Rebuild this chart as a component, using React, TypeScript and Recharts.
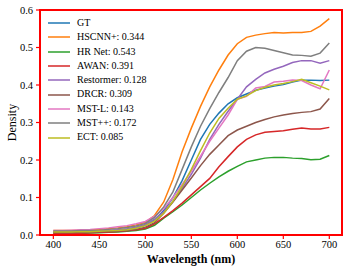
import React from 'react';
import { LineChart, Line, XAxis, YAxis, ReferenceArea, Legend } from 'recharts';

const wavelengths = [400, 410, 420, 430, 440, 450, 460, 470, 480, 490, 500, 510, 520, 530, 540, 550, 560, 570, 580, 590, 600, 610, 620, 630, 640, 650, 660, 670, 680, 690, 700];

const gt = [0.008, 0.008, 0.008, 0.009, 0.009, 0.010, 0.011, 0.013, 0.015, 0.019, 0.026, 0.040, 0.065, 0.100, 0.145, 0.200, 0.255, 0.295, 0.325, 0.350, 0.366, 0.376, 0.386, 0.392, 0.397, 0.401, 0.408, 0.413, 0.413, 0.412, 0.413];
const hscnn = [0.012, 0.012, 0.012, 0.013, 0.014, 0.015, 0.017, 0.019, 0.022, 0.027, 0.034, 0.052, 0.088, 0.148, 0.222, 0.285, 0.343, 0.395, 0.440, 0.480, 0.510, 0.527, 0.533, 0.537, 0.540, 0.539, 0.540, 0.540, 0.543, 0.557, 0.577];
const hrnet = [0.003, 0.003, 0.004, 0.004, 0.005, 0.006, 0.007, 0.008, 0.010, 0.012, 0.016, 0.026, 0.045, 0.062, 0.080, 0.100, 0.120, 0.138, 0.155, 0.170, 0.183, 0.195, 0.200, 0.205, 0.207, 0.207, 0.205, 0.204, 0.201, 0.202, 0.212];
const awan = [0.004, 0.004, 0.005, 0.005, 0.006, 0.007, 0.008, 0.009, 0.011, 0.014, 0.018, 0.030, 0.047, 0.065, 0.085, 0.107, 0.129, 0.151, 0.182, 0.209, 0.235, 0.255, 0.267, 0.274, 0.276, 0.278, 0.282, 0.285, 0.283, 0.283, 0.287];
const restormer = [0.008, 0.008, 0.009, 0.009, 0.010, 0.011, 0.012, 0.014, 0.017, 0.021, 0.028, 0.042, 0.062, 0.090, 0.125, 0.162, 0.205, 0.255, 0.295, 0.330, 0.362, 0.395, 0.415, 0.432, 0.442, 0.450, 0.460, 0.465, 0.465, 0.458, 0.465];
const drcr = [0.006, 0.006, 0.006, 0.007, 0.007, 0.008, 0.009, 0.010, 0.012, 0.015, 0.021, 0.033, 0.058, 0.088, 0.120, 0.152, 0.185, 0.215, 0.240, 0.265, 0.280, 0.290, 0.300, 0.308, 0.315, 0.320, 0.324, 0.327, 0.329, 0.336, 0.364];
const mstl = [0.012, 0.012, 0.013, 0.014, 0.015, 0.017, 0.019, 0.022, 0.025, 0.030, 0.036, 0.050, 0.070, 0.100, 0.135, 0.170, 0.210, 0.250, 0.285, 0.320, 0.362, 0.370, 0.392, 0.396, 0.408, 0.410, 0.413, 0.412, 0.400, 0.390, 0.440];
const mstpp = [0.011, 0.011, 0.011, 0.012, 0.012, 0.013, 0.015, 0.017, 0.020, 0.024, 0.031, 0.047, 0.075, 0.115, 0.175, 0.235, 0.290, 0.337, 0.380, 0.420, 0.465, 0.490, 0.500, 0.498, 0.492, 0.486, 0.480, 0.479, 0.477, 0.485, 0.512];
const ect = [0.008, 0.008, 0.008, 0.009, 0.009, 0.010, 0.011, 0.012, 0.014, 0.018, 0.025, 0.037, 0.058, 0.090, 0.130, 0.175, 0.225, 0.272, 0.311, 0.338, 0.362, 0.371, 0.385, 0.394, 0.400, 0.404, 0.409, 0.415, 0.406, 0.397, 0.387];

const seriesKeys = ['gt', 'hscnn', 'hrnet', 'awan', 'restormer', 'drcr', 'mstl', 'mstpp', 'ect'];
const seriesLabels = ['GT', 'HSCNN+: 0.344', 'HR Net: 0.543', 'AWAN: 0.391', 'Restormer: 0.128', 'DRCR: 0.309', 'MST-L: 0.143', 'MST++: 0.172', 'ECT: 0.085'];
const seriesColors = ['#1f77b4', '#ff7f0e', '#2ca02c', '#d62728', '#9467bd', '#8c564b', '#e377c2', '#7f7f7f', '#bcbd22'];
const seriesValues = [gt, hscnn, hrnet, awan, restormer, drcr, mstl, mstpp, ect];

const xTicks = [400, 450, 500, 550, 600, 650, 700];
const yTicks = [0, 0.1, 0.2, 0.3, 0.4, 0.5, 0.6];

const data = wavelengths.map((w, i) => {
  const row: Record<string, number> = { w };
  seriesKeys.forEach((k, j) => {
    row[k] = seriesValues[j][i];
  });
  return row;
});

const FONT = '"Liberation Serif", "Times New Roman", serif';
const XMIN = 385.5;
const XMAX = 713.8;

const LegendContent = () => (
  <div style={{ fontFamily: FONT, fontSize: 10, color: '#000' }}>
    {seriesLabels.map((label, i) => (
      <div key={label} style={{ display: 'flex', alignItems: 'center', height: 14.3, whiteSpace: 'nowrap' }}>
        <svg width={22} height={4} style={{ display: 'block' }}>
          <line x1={0} y1={2} x2={22} y2={2} stroke={seriesColors[i]} strokeWidth={1.5} />
        </svg>
        <span style={{ marginLeft: 7, lineHeight: '14.3px' }}>{label}</span>
      </div>
    ))}
  </div>
);

export default function App() {
  return (
    <div style={{ width: 349, height: 272, position: 'relative', background: '#fff' }}>
      <style>{'body{margin:0;}'}</style>
      <LineChart width={349} height={272} data={data} margin={{ top: 10, right: 7, left: 0, bottom: 0 }}>
        <XAxis
          dataKey="w"
          type="number"
          domain={[XMIN, XMAX]}
          ticks={xTicks}
          allowDataOverflow
          height={37}
          tickSize={4}
          tickMargin={2}
          axisLine={{ stroke: '#ff0000', strokeWidth: 2 }}
          tickLine={{ stroke: '#ff0000', strokeWidth: 1.2 }}
          tick={{ fill: '#000', fontSize: 10.5, fontFamily: FONT }}
          label={{ value: 'Wavelength (nm)', position: 'insideBottom', offset: 9, style: { fill: '#000', fontSize: 12, fontWeight: 'bold', fontFamily: FONT } }}
        />
        <YAxis
          type="number"
          domain={[0, 0.6]}
          ticks={yTicks}
          allowDataOverflow
          width={40}
          tickSize={4}
          tickMargin={3}
          tickFormatter={(v: number) => v.toFixed(1)}
          axisLine={{ stroke: '#ff0000', strokeWidth: 2 }}
          tickLine={{ stroke: '#ff0000', strokeWidth: 1.2 }}
          tick={{ fill: '#000', fontSize: 10.5, fontFamily: FONT }}
          label={{ value: 'Density', angle: -90, position: 'insideLeft', offset: 12, style: { textAnchor: 'middle', fill: '#000', fontSize: 12, fontFamily: FONT } }}
        />
        {seriesKeys.map((k, i) => (
          <Line
            key={k}
            dataKey={k}
            type="linear"
            stroke={seriesColors[i]}
            strokeWidth={1.5}
            dot={false}
            activeDot={false}
            isAnimationActive={false}
          />
        ))}
        <ReferenceArea x1={XMIN} x2={XMAX} y1={0} y2={0.6} fill="none" stroke="#ff0000" strokeWidth={2} ifOverflow="visible" />
        <Legend
          layout="vertical"
          align="center"
          verticalAlign="middle"
          content={LegendContent}
          wrapperStyle={{ left: 48, top: 16, width: 'auto', height: 'auto' }}
        />
      </LineChart>
    </div>
  );
}
